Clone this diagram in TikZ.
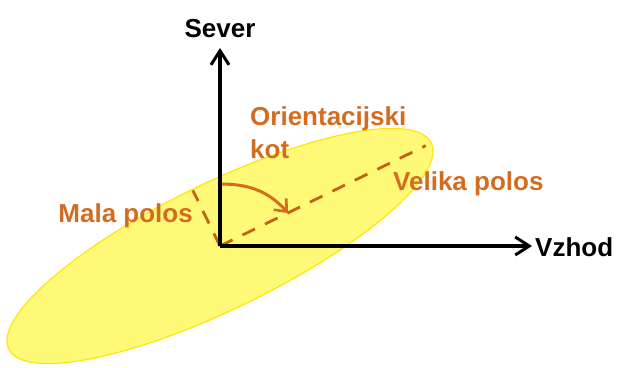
\documentclass[tikz,border=0pt]{standalone}
\usepackage{fontspec}
\setmainfont{Liberation Sans}
\usetikzlibrary{arrows.meta}
\definecolor{ellfill}{RGB}{255,249,120}
\definecolor{elledge}{RGB}{255,230,10}
\definecolor{labor}{RGB}{212,108,32}
\definecolor{dashor}{RGB}{195,98,22}
\begin{document}
\begin{tikzpicture}[x=1pt,y=-1pt,
  axis/.style={line width=3.5pt,black,-{Straight Barb[length=14pt,width=18pt,line width=3pt]}},
  semiaxis/.style={dashor,line width=2.8pt,dash pattern=on 14pt off 11pt},
  lab/.style={text=labor,font=\fontsize{26}{30}\selectfont\bfseries,inner sep=0pt},
  blab/.style={text=black,font=\fontsize{26}{30}\selectfont\bfseries,inner sep=0pt},
  anglearc/.style={labor,line width=3pt,-{Straight Barb[length=10pt,width=17pt,line width=2.6pt]}}]
\useasboundingbox (0,0) rectangle (617,367);
% ellipse
\fill[ellfill,draw=elledge,line width=1.2pt,rotate around={26:(220,246)}] (220,246) ellipse [x radius=235pt,y radius=63pt];
% coordinates
\coordinate (O) at (220,246);
\coordinate (N) at (220,48);
\coordinate (E) at (532,246);
\path (O) ++(26:229pt) coordinate (MajEnd);
\path (O) ++(116:62pt) coordinate (MinEnd);
\coordinate (ArcS) at (221,184);
\coordinate (ArcE) at (288,213);
% semi-axes
\draw[semiaxis] (O) -- (MajEnd);
\draw[semiaxis] (O) -- (MinEnd);
% angle arc
\draw[anglearc] (ArcS) to[out=0,in=132] (ArcE);
% axes
\draw[axis] (O) -- (N);
\draw[axis] (O) -- (E);
% labels
\node[blab,anchor=base] (sever) at (220,37) {Sever};
\node[blab,anchor=base west] (vzhod) at (535,256) {Vzhod};
\node[lab,anchor=base west] (ori1) at (250,125) {Orientacijski};
\node[lab,anchor=base west] (ori2) at (250,158) {kot};
\node[lab,anchor=base west] (velika) at (393,190) {Velika polos};
\node[lab,anchor=base east] (mala) at (193,222) {Mala polos};
\end{tikzpicture}
\end{document}
